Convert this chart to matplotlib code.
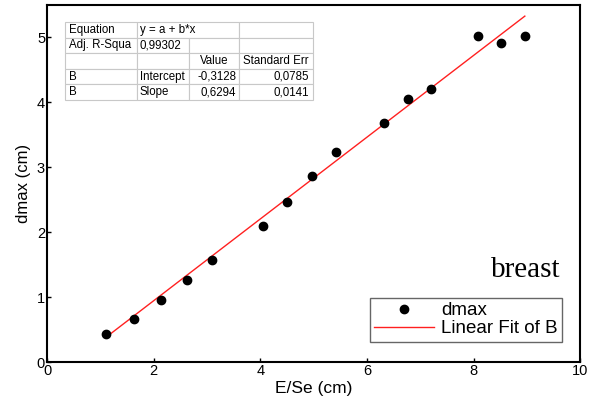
import matplotlib
matplotlib.use("Agg")
import matplotlib.pyplot as plt
import numpy as np

x_vals = [1.11, 1.63, 2.13, 2.62, 3.10, 4.04, 4.50, 4.96, 5.42, 6.31, 6.76, 7.20, 8.08, 8.52, 8.96]
dmax = [0.43, 0.66, 0.96, 1.27, 1.57, 2.09, 2.47, 2.86, 3.23, 3.68, 4.05, 4.21, 5.02, 4.92, 5.02]
intercept = -0.3128
slope = 0.6294

table_rows = [
    ["Equation", "y = a + b*x", "", ""],
    ["Adj. R-Squa", "0,99302", "", ""],
    ["", "", "Value", "Standard Err"],
    ["B", "Intercept", "-0,3128", "0,0785"],
    ["B", "Slope", "0,6294", "0,0141"],
]

plt.rcParams['font.family'] = ['Liberation Sans', 'DejaVu Sans']

fig = plt.figure(figsize=(5.97, 4.05), dpi=100)
ax = fig.add_axes([0.079, 0.106, 0.893, 0.882])

ax.plot(x_vals, dmax, 'o', color='black', markersize=6, label='dmax', zorder=3)
xf = np.array([min(x_vals), max(x_vals)])
ax.plot(xf, intercept + slope * xf, '-', color='#ff2020', lw=1.0, label='Linear Fit of B', zorder=2)

ax.set_xlim(0, 10)
ax.set_ylim(0, 5.5)
ax.set_xticks([0, 2, 4, 6, 8, 10])
ax.set_yticks([0, 1, 2, 3, 4, 5])
ax.tick_params(direction='in', length=3, width=1, labelsize=10.5, pad=1.5)
for s in ax.spines.values():
    s.set_linewidth(1.5)
ax.set_xlabel('E/Se (cm)', fontsize=12.5, labelpad=2)
ax.set_ylabel('dmax (cm)', fontsize=12, labelpad=4)

leg = ax.legend(loc='lower right', bbox_to_anchor=(0.966, 0.056), fontsize=13.5,
                frameon=True, fancybox=False, edgecolor='#404040',
                handlelength=3.2, borderpad=0.25, labelspacing=0.05, handletextpad=0.35,
                borderaxespad=0)
leg.get_frame().set_linewidth(1.0)

ax.text(0.962, 0.238, 'breast', transform=ax.transAxes, ha='right', va='baseline',
        fontsize=21, family='Liberation Serif')

tbl = ax.table(cellText=table_rows, bbox=[0.034, 0.734, 0.465, 0.218],
               colWidths=[0.29, 0.21, 0.20, 0.30], zorder=5)
tbl.auto_set_font_size(False)
aligns = {0: 'left', 1: 'left', 2: 'right', 3: 'right'}
for (r, c), cell in tbl.get_celld().items():
    cell.set_edgecolor('#c8c8c8')
    cell.set_linewidth(0.8)
    cell.get_text().set_fontsize(8.3)
    cell.get_text().set_clip_on(False)
    cell.PAD = 0.05
    al = aligns[c]
    if r == 2 and c == 2:
        al = 'center'
    if r == 2 and c == 3:
        al = 'left'
    cell.set_text_props(ha=al)
    cell._loc = al
tbl[0, 1].visible_edges = 'BTL'
tbl[0, 2].visible_edges = 'BTR'
tbl[0, 2].set_facecolor('none')

fig.savefig('out.png', dpi=100)
